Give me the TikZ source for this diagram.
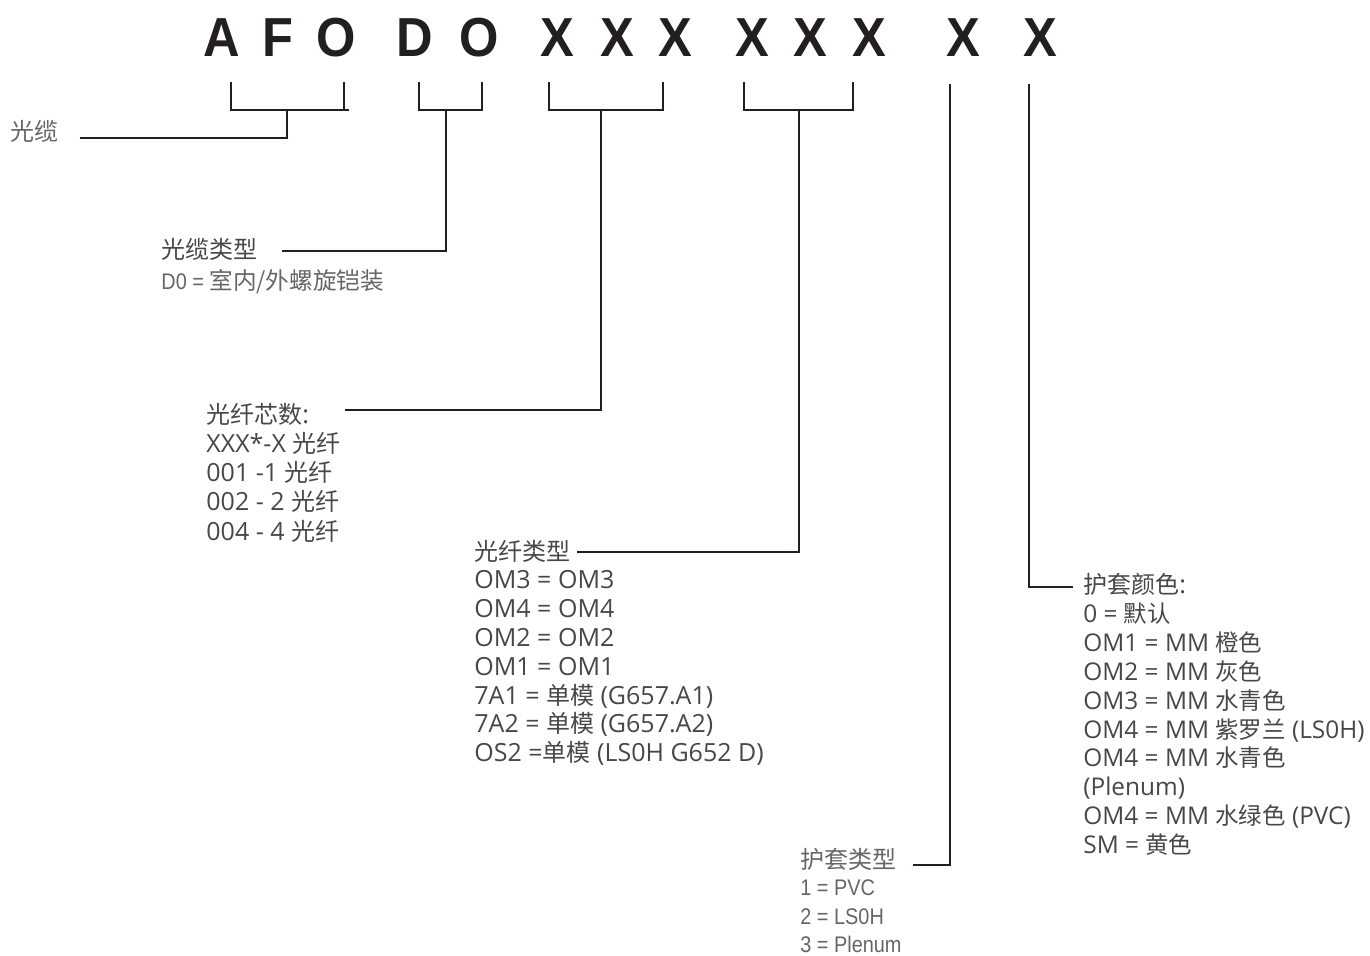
\documentclass[tikz,border=0pt]{standalone}
\usepackage{fontspec}
\setmainfont{Open Sans}
\newfontfamily\cjk{Noto Sans CJK SC}[Scale=0.96]
\newfontfamily\narrowfont{Liberation Sans}[FakeStretch=0.88]
\newfontfamily\codefont{Liberation Sans Bold}[FakeStretch=0.92]
\newcommand{\zh}[1]{{\cjk #1}}
\newcommand{\zhnote}[1]{{\cjk\fontsize{12.3pt}{15pt}\selectfont #1}}
\definecolor{inkblack}{HTML}{231F20}
\definecolor{labelgray}{HTML}{474747}
\definecolor{notegray}{HTML}{666666}
\tikzset{
  code/.style={font=\codefont\fontsize{27.5pt}{27.5pt}\selectfont, text=inkblack, anchor=base, inner sep=0pt},
  lead/.style={draw=inkblack, line width=1.3pt},
  item/.style={font=\fontsize{12.5pt}{15pt}\selectfont, text=labelgray, anchor=base west, inner sep=0pt},
  note/.style={font=\narrowfont\fontsize{11.3pt}{14pt}\selectfont, text=notegray, anchor=base west, inner sep=0pt}
}
\begin{document}
\begin{tikzpicture}[x=0.5pt,y=-0.5pt]
  \useasboundingbox (0,0) rectangle (1370,956);

  % part number
  \foreach \ch/\x [count=\i] in {A/222,F/278,O/336,D/415,O/479,X/557,X/617,X/675,X/752,X/810,X/869,X/963,X/1040}{
    \node[code] (c\i) at (\x,57) {\ch};
  }

  % brackets
  \draw[lead] (231,82) |- (349,110);
  \draw[lead] (344,82) -- (344,110);
  \draw[lead] (419,82) |- (482,110) -- (482,82);
  \draw[lead] (549,82) |- (663,110) -- (663,82);
  \draw[lead] (744,82) |- (853,110) -- (853,82);

  \coordinate (b1) at (287,110);
  \coordinate (b2) at (446,110);
  \coordinate (b3) at (601,110);
  \coordinate (b4) at (799,110);
  \coordinate (b5) at (950,84);
  \coordinate (b6) at (1029,84);

  \coordinate (e1) at (80,138);
  \coordinate (e2) at (282,251);
  \coordinate (e3) at (345,410);
  \coordinate (e4) at (577,552);
  \coordinate (e5) at (913,865);
  \coordinate (e6) at (1073,587);

  \foreach \i in {1,...,6}{
    \draw[lead] (b\i) |- (e\i);
  }

  % labels
  \node[item, text=notegray] (cable) at (10,141) {\zh{光缆}};

  \node[item] (ctype) at (161,259) {\zh{光缆类型}};
  \node[note] (ctypeval) at (161,290) {D0 = \zhnote{室内/外螺旋铠装}};

  \node[item] (count) at (206,424) {\zh{光纤芯数}:};
  \foreach \t [count=\i] in {{XXX*-X \zh{光纤}},{001 -1 \zh{光纤}},{002 - 2 \zh{光纤}},{004 - 4 \zh{光纤}}}{
    \node[item] (count\i) at (206,424+29*\i) {\t};
  }

  \node[item] (ftype) at (474,560) {\zh{光纤类型}};
  \foreach \t [count=\i] in {{OM3 = OM3},{OM4 = OM4},{OM2 = OM2},{OM1 = OM1},{7A1 = \zh{单模} (G657.A1)},{7A2 = \zh{单模} (G657.A2)},{OS2 =\zh{单模} (LS0H G652 D)}}{
    \node[item] (ftype\i) at (474,560+28.8*\i) {\t};
  }

  \node[item, text=notegray] (jtype) at (800,868) {\zh{护套类型}};
  \foreach \t [count=\i] in {{1 = PVC},{2 = LS0H},{3 = Plenum}}{
    \node[note] (jtype\i) at (800,867+28.5*\i) {\t};
  }

  \node[item] (jcol) at (1083,594) {\zh{护套颜色}:};
  \foreach \t [count=\i] in {{0 = \zh{默认}},{OM1 = MM \zh{橙色}},{OM2 = MM \zh{灰色}},{OM3 = MM \zh{水青色}},{OM4 = MM \zh{紫罗兰} (LS0H)},{OM4 = MM \zh{水青色}},{(Plenum)},{OM4 = MM \zh{水绿色} (PVC)},{SM = \zh{黄色}}}{
    \node[item, font=\fontsize{12.2pt}{15pt}\selectfont] (jcol\i) at (1083,594+28.8*\i) {\t};
  }
\end{tikzpicture}
\end{document}
